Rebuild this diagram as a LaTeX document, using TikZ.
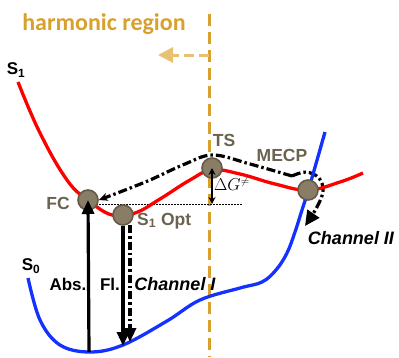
\documentclass[tikz,border=0pt]{standalone}
\usepackage{fontspec}
\setmainfont{Liberation Sans}
\newfontfamily\calibri{Carlito}
\usetikzlibrary{arrows.meta, calc}

\definecolor{goldline}{RGB}{216,160,44}
\definecolor{goldlight}{RGB}{233,193,112}
\definecolor{statefill}{RGB}{138,125,102}
\definecolor{statebd}{RGB}{100,90,72}
\definecolor{lblgray}{RGB}{107,98,80}
\definecolor{sred}{RGB}{255,0,0}
\definecolor{sblue}{RGB}{20,50,255}

\tikzset{
    state/.style={circle, draw=statebd, fill=statefill, line width=1.6pt, minimum size=20pt, inner sep=0pt},
    lbl/.style={font=\bfseries\fontsize{17.5}{18}\selectfont, text=lblgray, inner sep=0pt},
    blk/.style={font=\bfseries\fontsize{17}{18}\selectfont, inner sep=0pt},
    bigarrow/.style={-{Triangle[length=14pt,width=12pt]}, line width=3.2pt},
    dashdot/.style={line width=3.2pt, dash pattern=on 9pt off 3pt on 2.5pt off 3pt},
    curve/.style={line width=3.3pt, line join=round}
}

\begin{document}
\begin{tikzpicture}[x=1pt,y=-1pt]
        \useasboundingbox (0,0) rectangle (399,357);

        % harmonic region
        \coordinate (vtop) at (209,14);
        \coordinate (vbot) at (209,357);
        \coordinate (hstart) at (209,55);
        \coordinate (hend) at (158,55);
        \draw[goldline, line width=3pt, dash pattern=on 12pt off 6pt] (vtop) -- (vbot);
        \draw[goldlight, line width=3pt, dash pattern=on 10pt off 5pt, -{Triangle[length=15pt,width=15pt]}] (hstart) -- (hend);
        \node[text=goldline, font=\calibri\bfseries\fontsize{24}{26}\selectfont] (harm) at (104,24) {harmonic region};

        % reference level
        \coordinate (refl) at (93,204);
        \coordinate (refr) at (243,204);
        \draw[line width=1pt, dash pattern=on 1.5pt off 1.5pt] (refl) -- (refr);

        % Channel II (under S0)
        \coordinate (mtop) at (292,176);
        \coordinate (ch2end) at (305,226);
        \draw[dashdot, -{Triangle[length=15pt,width=14pt]}] plot[smooth, tension=0.6] coordinates {(mtop) (306,172) (319,178) (323,191) (317,207) (ch2end)};

        % potential energy curves
        \draw[sred, curve] plot[smooth, tension=0.7] coordinates {(18,82) (40,133) (67,180) (88,200) (112,215) (135,213) (160,199) (190,180) (212,170) (240,174) (275,184) (308,190) (340,182) (363,173)};
        \draw[sblue, curve] plot[smooth, tension=0.6] coordinates {(28,278) (40,320) (60,345) (90,352) (123,345) (167,321) (200,300) (240,288) (262,282) (276,270) (287,253) (295,232) (302,210) (309,188) (325,132)};

        % states
        \node[state] (fc) at (88,200) {};
        \node[state] (s1opt) at (123,215) {};
        \node[state] (ts) at (212,168) {};
        \node[state] (mecp) at (308,190) {};

        % back to FC
        \draw[dashdot, -{Stealth[length=9pt,width=8pt]}] plot[smooth, tension=0.6] coordinates {(mtop) (250,164) (213,155) (185,164) (150,180) (120,192) (fc.east)};

        % vertical transitions
        \coordinate (absbot) at (89,352);
        \coordinate (flbot) at (123,346);
        \coordinate (ch1top) at (130,225);
        \coordinate (ch1bot) at (130,342);
        \coordinate (dgbot) at (212,204);
        \draw[bigarrow] (absbot) -- (fc.center);
        \draw[bigarrow] (s1opt.south) -- (flbot);
        \draw[dashdot, dash pattern=on 8pt off 3pt on 2.5pt off 3pt, -{Triangle[length=14pt,width=12pt]}] (ch1top) -- (ch1bot);
        \draw[line width=1.3pt, {Stealth[length=7pt,width=7pt]}-{Stealth[length=7pt,width=7pt]}] (ts.center) -- (dgbot);

        % labels
        \node[blk] (s1lbl) at (16,70) {S\textsubscript{1}};
        \node[blk] (s0lbl) at (31,266) {S\textsubscript{0}};
        \node[lbl] (fclbl) at (58,203) {FC};
        \node[lbl, anchor=west] (optlbl) at (137,221) {S\textsubscript{1} Opt};
        \node[lbl] (tslbl) at (224,140) {TS};
        \node[lbl] (mecplbl) at (282,155) {MECP};
        \node[font=\fontsize{16}{18}\selectfont, inner sep=0pt] (dglbl) at (232,184) {$\Delta G^{\neq}$};
        \node[blk] (abslbl) at (68,284) {Abs.};
        \node[blk] (fllbl) at (110,284) {Fl.};
        \node[blk, font=\bfseries\itshape\fontsize{18}{19}\selectfont] (ch1lbl) at (175,284) {Channel I};
        \node[blk, font=\bfseries\itshape\fontsize{18}{19}\selectfont] (ch2lbl) at (351,238) {Channel II};
\end{tikzpicture}
\end{document}
